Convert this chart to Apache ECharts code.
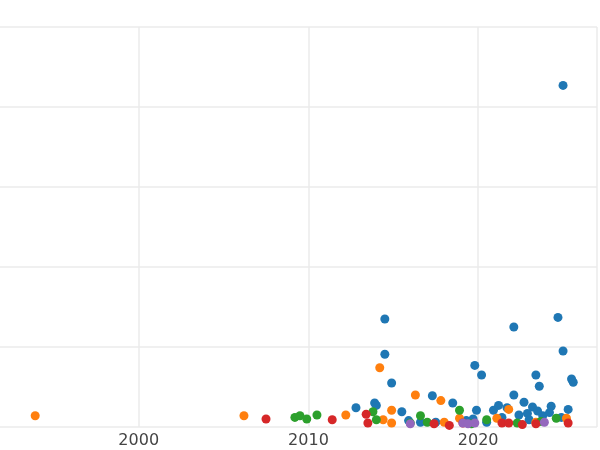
<!DOCTYPE html>
<html>
<head>
<meta charset="utf-8">
<script src="https://cdn.jsdelivr.net/npm/echarts@6/dist/echarts.min.js"></script>
<style>html,body{margin:0;padding:0;background:#fff;overflow:hidden}#wrap{width:600px;height:450px;overflow:hidden;position:relative}#chart{width:634px;height:450px;position:absolute;left:-34px;top:0}</style>
</head>
<body>
<div id="wrap"><div id="chart"></div></div>
<script>
// [year, value]
const blueData = [
  [2025.0, 427], [2014.5, 135], [2022.1, 125], [2024.7, 137], [2014.5, 91], [2025.0, 95],
  [2019.8, 77], [2020.2, 65], [2023.4, 65], [2014.9, 55], [2023.6, 51], [2025.5, 60],
  [2025.6, 56], [2012.8, 24], [2013.9, 30], [2014.0, 27], [2015.5, 19], [2017.3, 39],
  [2018.5, 30], [2022.1, 40], [2019.9, 21], [2020.9, 21], [2021.2, 27], [2021.7, 24],
  [2022.7, 31], [2023.2, 25], [2024.3, 26], [2025.3, 22], [2015.9, 8], [2016.6, 6],
  [2017.5, 6], [2019.3, 8], [2019.7, 10], [2020.5, 6], [2021.4, 12], [2022.4, 15],
  [2023.0, 9], [2023.8, 14], [2024.2, 18], [2024.9, 12], [2023.5, 20], [2022.9, 17]
];
const orangeData = [
  [1993.9, 14], [2006.2, 14], [2012.2, 15], [2014.2, 74], [2014.9, 21], [2014.4, 9],
  [2014.9, 5], [2016.3, 40], [2017.8, 33], [2021.8, 22], [2018.9, 11], [2021.1, 11],
  [2025.2, 11], [2018.0, 6], [2023.4, 6]
];
const greenData = [
  [2009.2, 12], [2009.5, 14], [2009.9, 10], [2010.5, 15], [2013.8, 19], [2014.0, 9],
  [2016.6, 14], [2018.9, 21], [2017.0, 6], [2020.5, 9], [2024.6, 11], [2023.7, 7],
  [2016.0, 5], [2019.6, 4], [2022.3, 5]
];
const redData = [
  [2007.5, 10], [2011.4, 9], [2013.4, 16], [2013.5, 5], [2017.4, 4], [2018.3, 2],
  [2021.4, 5], [2021.8, 5], [2023.4, 4], [2025.3, 5], [2019.1, 5], [2022.6, 3]
];
const purpleData = [
  [2016.0, 4], [2019.1, 5], [2019.4, 4], [2019.8, 5], [2023.9, 6]
];
const xTicks = [2000, 2010, 2020];

const chart = echarts.init(document.getElementById('chart'));
const mk = (data, color) => ({
  type: 'scatter', data, symbolSize: 9,
  itemStyle: { color, opacity: 1 }
});
chart.setOption({
  animation: false,
  grid: { left: 0, right: 0, top: 27, bottom: 23 },
  xAxis: {
    type: 'value', min: 1990, max: 2027, interval: 10,
    axisLine: { show: false }, axisTick: { show: false },
    axisLabel: { color: '#444', fontSize: 16, fontFamily: 'DejaVu Sans', margin: 6,
      formatter: v => xTicks.includes(v) ? String(v) : '' },
    splitLine: { lineStyle: { color: '#ebebeb', width: 1.5 } }
  },
  yAxis: {
    type: 'value', min: 0, max: 500, interval: 100,
    axisLine: { show: false }, axisTick: { show: false }, axisLabel: { show: false },
    splitLine: { lineStyle: { color: '#ebebeb', width: 1.5 } }
  },
  series: [
    mk(blueData, '#1f77b4'),
    mk(orangeData, '#ff7f0e'),
    mk(greenData, '#2ca02c'),
    mk(redData, '#d62728'),
    mk(purpleData, '#9467bd')
  ]
});
</script>
</body>
</html>
